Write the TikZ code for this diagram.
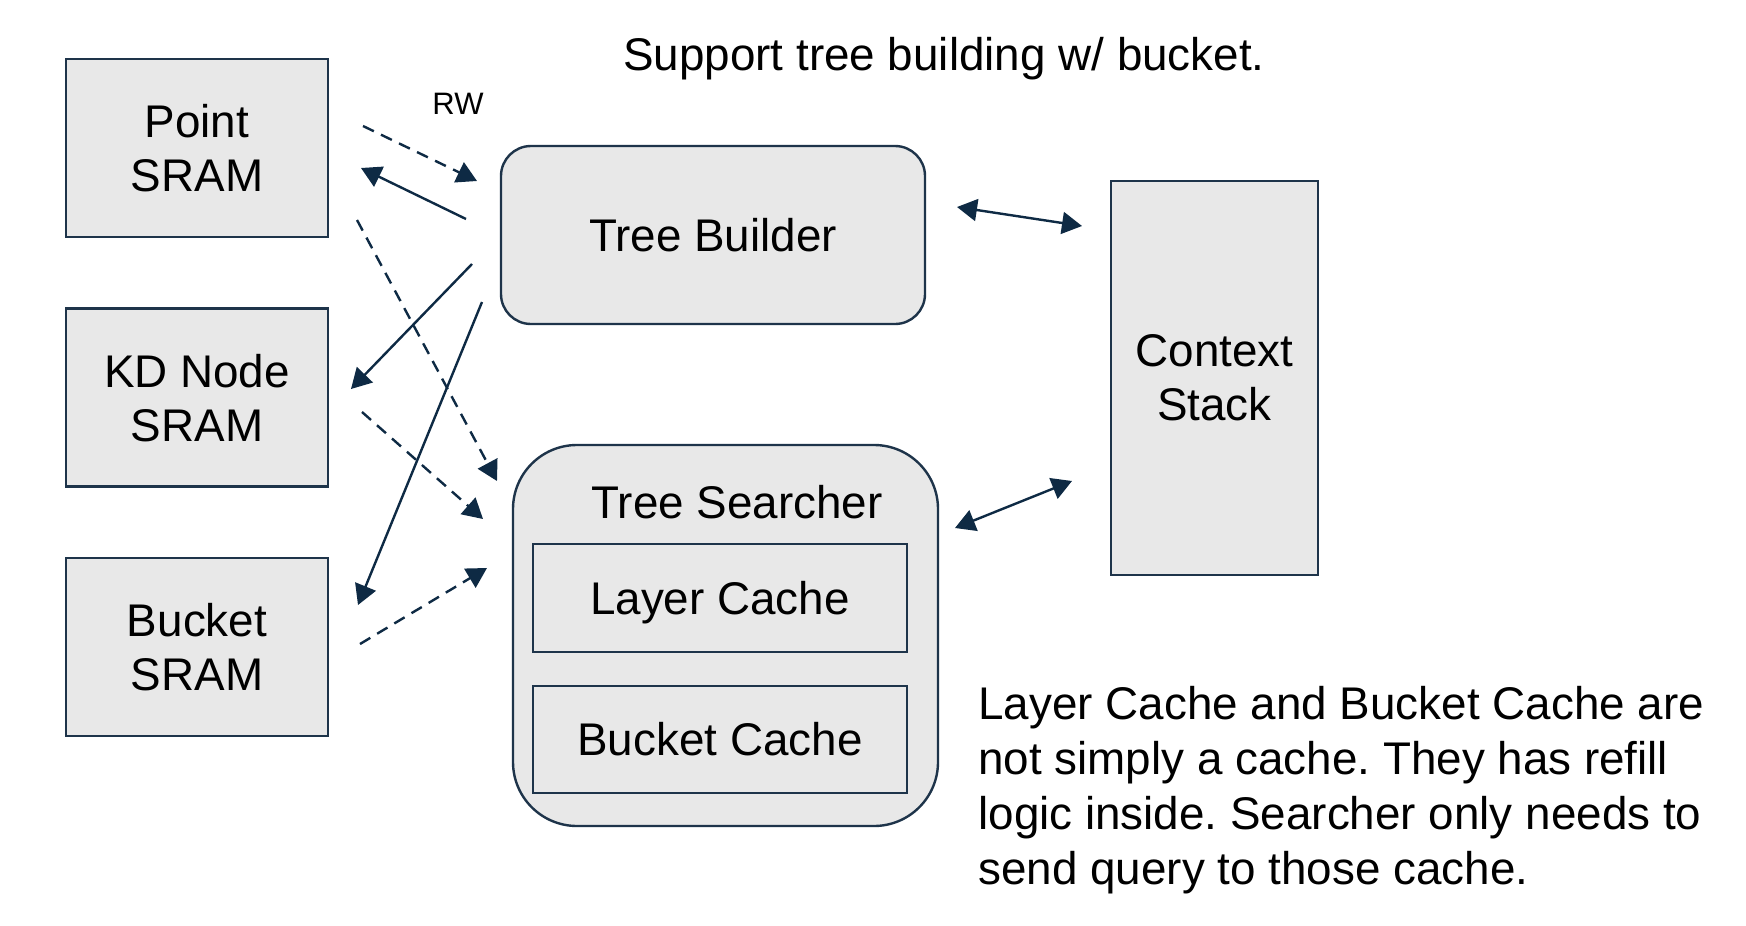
\documentclass[tikz,border=0pt]{standalone}
\usepackage{fontspec}
\setmainfont{Liberation Sans}
\usetikzlibrary{arrows.meta}
\definecolor{navy}{HTML}{0E2A44}
\definecolor{boxfill}{HTML}{E8E8E8}
\definecolor{boxline}{HTML}{1E344A}
\newcommand\mainfnt{\fontsize{22.9}{27}\selectfont}
\newcommand\smallfnt{\fontsize{15.5}{18}\selectfont}
\frenchspacing
\begin{document}
\begin{tikzpicture}[x=0.5pt,y=-0.5pt,
  box/.style={draw=boxline,line width=1.2pt,fill=boxfill,inner sep=0pt,align=center,font=\mainfnt},
  rbox/.style={box,rounded corners=#1},
  lbl/.style={inner sep=0pt,font=\mainfnt},
  conn/.style={draw=navy,line width=1.2pt,-{Triangle[length=10pt,width=11pt]}},
  dconn/.style={conn,dash pattern=on 6pt off 4pt},
  bconn/.style={draw=navy,line width=1.2pt,{Triangle[length=10pt,width=11pt]}-{Triangle[length=10pt,width=11pt]}}]
\useasboundingbox (0,0) rectangle (1746,926);
\fill[white] (0,0) rectangle (1746,926);

% left memories
\node[box,minimum width=131pt,minimum height=89pt,text depth=0pt] (ps) at (197,148) {Point\\SRAM};
\node[box,minimum width=131pt,minimum height=89pt,text depth=0pt] (kd) at (197,397.5) {KD Node\\SRAM};
\node[box,minimum width=131pt,minimum height=89pt,text depth=0pt] (bs) at (197,647) {Bucket\\SRAM};

% tree builder
\node[rbox=15pt,minimum width=212pt,minimum height=89pt] (tb) at (713,235) {Tree Builder};

% tree searcher
\node[rbox=32pt,minimum width=212.5pt,minimum height=190.5pt] (ts) at (725.5,635.5) {};
\node[lbl,anchor=base] (tsl) at (737,518) {Tree Searcher};
\node[box,minimum width=187pt,minimum height=54pt,text depth=0pt] (lc) at (720,598) {Layer Cache};
\node[box,minimum width=187pt,minimum height=53.5pt] (bc) at (720,739.5) {Bucket Cache};

% context stack
\node[box,minimum width=103.5pt,minimum height=197pt,text depth=0pt] (cs) at (1214.5,378) {Context\\Stack};

% title and labels
\node[lbl,anchor=base] (title) at (944,70) {Support tree building w/ bucket.};
\node[inner sep=0pt,font=\smallfnt] (rw) at (458,104) {RW};

\node[lbl,anchor=base west] (n1) at (978,719) {Layer Cache and Bucket Cache are};
\node[lbl,anchor=base west] (n2) at (978,774) {not simply a cache. They has refill};
\node[lbl,anchor=base west] (n3) at (978,829) {logic inside. Searcher only needs to};
\node[lbl,anchor=base west] (n4) at (978,884) {send query to those cache.};

% connector endpoints
\coordinate (a1s) at (363,126); \coordinate (a1e) at (477,181);
\coordinate (a2s) at (466,219); \coordinate (a2e) at (361,168);
\coordinate (a3s) at (357,220); \coordinate (a3e) at (497,481);
\coordinate (a4s) at (472,264); \coordinate (a4e) at (351,389);
\coordinate (a5s) at (482,302); \coordinate (a5e) at (358,605);
\coordinate (a6s) at (362,412); \coordinate (a6e) at (483,519);
\coordinate (a7s) at (360,644); \coordinate (a7e) at (487,568);
\coordinate (b1s) at (957,207); \coordinate (b1e) at (1082,226);
\coordinate (b2s) at (955,528); \coordinate (b2e) at (1072,481);

\draw[dconn] (a1s) -- (a1e);
\draw[conn] (a2s) -- (a2e);
\draw[dconn] (a3s) -- (a3e);
\draw[conn] (a4s) -- (a4e);
\draw[conn] (a5s) -- (a5e);
\draw[dconn] (a6s) -- (a6e);
\draw[dconn] (a7s) -- (a7e);
\draw[bconn] (b1s) -- (b1e);
\draw[bconn] (b2s) -- (b2e);
\end{tikzpicture}
\end{document}
